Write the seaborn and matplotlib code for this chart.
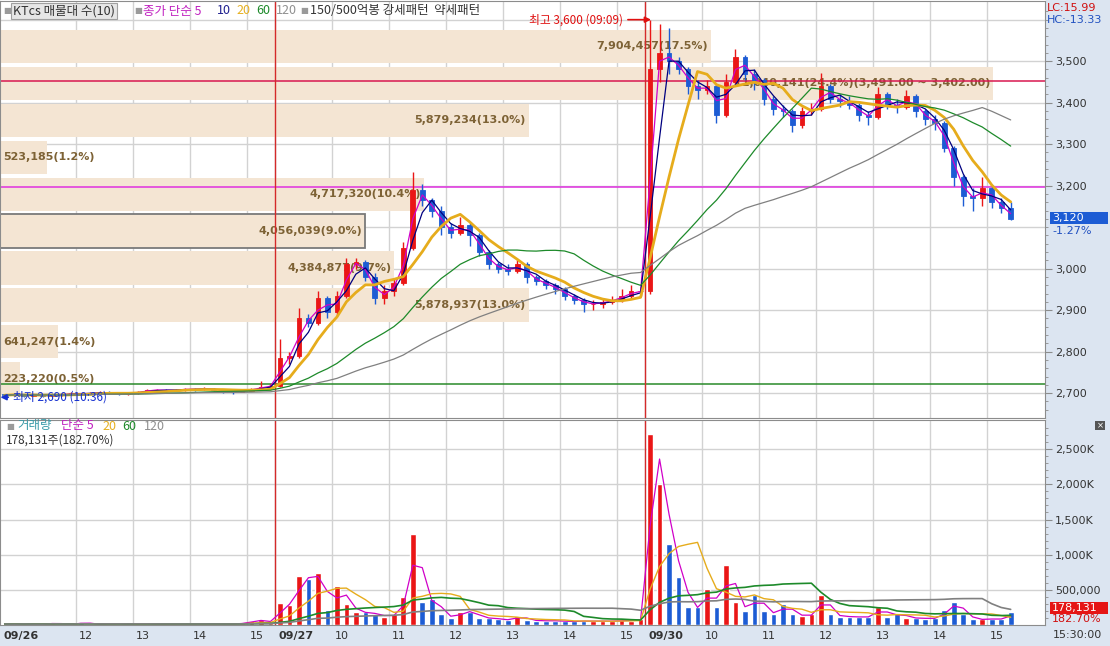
import numpy as np
import pandas as pd
import matplotlib
matplotlib.use("Agg")
import matplotlib.pyplot as plt
from matplotlib.patches import Rectangle
from matplotlib.transforms import ScaledTranslation, blended_transform_factory
import seaborn as sns

# 10분 단위로 읽은 시세 : 09/26 10:40~15:20, 09/27 09:00~15:20, 09/30 09:00~15:20
first_open = 2697
close_0926 = [2695, 2697, 2694, 2696, 2693, 2695, 2697, 2700, 2698, 2700, 2702, 2700, 2698, 2700, 2703,
              2707, 2708, 2706, 2708, 2710, 2709, 2711, 2708, 2705, 2703, 2706, 2710, 2715, 2718]
high_0926 = [2699, 2700, 2698, 2699, 2697, 2698, 2700, 2703, 2701, 2703, 2705, 2704, 2701, 2703, 2706,
             2710, 2711, 2709, 2711, 2713, 2712, 2714, 2712, 2709, 2706, 2709, 2713, 2730, 2722]
low_0926 = [2690, 2693, 2691, 2692, 2690, 2692, 2693, 2696, 2695, 2697, 2699, 2697, 2695, 2696, 2699,
            2702, 2704, 2703, 2704, 2706, 2705, 2707, 2704, 2700, 2699, 2702, 2705, 2709, 2713]

close_0927 = [2785, 2790, 2880, 2870, 2930, 2895, 2935, 3010, 3015, 2980, 2930, 2945, 2965, 3050, 3190,
              3165, 3140, 3100, 3085, 3105, 3080, 3040, 3010, 3000, 2995, 3010, 2980, 2970, 2960, 2950,
              2935, 2925, 2915, 2915, 2920, 2925, 2935, 2945, 2945]
high_0927 = [2830, 2800, 2905, 2890, 2945, 2935, 2945, 3025, 3025, 3020, 2990, 2960, 2975, 3065, 3232,
             3205, 3170, 3150, 3110, 3125, 3110, 3085, 3045, 3015, 3010, 3020, 3015, 2985, 2975, 2965,
             2955, 2940, 2930, 2925, 2930, 2935, 2950, 2960, 2955]
low_0927 = [2715, 2770, 2785, 2860, 2865, 2880, 2885, 2930, 3000, 2970, 2915, 2915, 2935, 2960, 3045,
            3150, 3125, 3080, 3075, 3080, 3055, 3030, 3000, 2990, 2985, 2990, 2965, 2960, 2950, 2940,
            2925, 2915, 2895, 2900, 2905, 2915, 2920, 2930, 2935]

close_0930 = [3480, 3520, 3500, 3480, 3440, 3430, 3440, 3370, 3450, 3510, 3470, 3455, 3410, 3385, 3380,
              3345, 3380, 3385, 3440, 3410, 3405, 3395, 3370, 3365, 3420, 3395, 3390, 3415, 3380, 3360,
              3350, 3290, 3220, 3175, 3170, 3195, 3160, 3145, 3120]
high_0930 = [3600, 3590, 3580, 3510, 3485, 3455, 3455, 3445, 3470, 3530, 3515, 3480, 3460, 3415, 3395,
             3385, 3390, 3400, 3471, 3445, 3420, 3415, 3400, 3380, 3437, 3425, 3410, 3430, 3420, 3385,
             3370, 3355, 3295, 3225, 3195, 3220, 3200, 3170, 3160]
low_0930 = [2940, 3450, 3470, 3470, 3420, 3410, 3420, 3350, 3365, 3445, 3455, 3430, 3395, 3370, 3365,
            3330, 3340, 3370, 3380, 3400, 3390, 3385, 3355, 3345, 3360, 3385, 3375, 3385, 3365, 3345,
            3335, 3280, 3200, 3150, 3140, 3150, 3145, 3135, 3118]

volume_0926 = [15000, 10000, 20000, 8000, 12000, 30000, 10000, 8000, 40000, 12000, 10000, 20000, 15000, 10000,
               25000, 12000, 10000, 8000, 15000, 10000, 12000, 20000, 15000, 10000, 18000, 25000, 60000, 70000, 30000]
volume_0927 = [310000, 280000, 695000, 650000, 733000, 220000, 550000, 300000, 180000, 180000, 150000, 120000,
               150000, 400000, 1300000, 330000, 370000, 150000, 100000, 190000, 190000, 100000, 100000, 80000,
               70000, 130000, 70000, 60000, 60000, 60000, 50000, 50000, 60000, 50000, 60000, 50000, 70000,
               60000, 90000]
volume_0930 = [2720000, 2000000, 1150000, 680000, 250000, 250000, 515000, 250000, 860000, 320000, 200000,
               420000, 200000, 150000, 300000, 150000, 130000, 150000, 420000, 150000, 120000, 120000, 110000,
               120000, 250000, 120000, 170000, 100000, 100000, 90000, 100000, 210000, 330000, 150000, 80000,
               80000, 90000, 80000, 178131]

# 매물대 (아래 -> 위), 3,402 ~ 3,491 구간이 최대
profile_low = 2690
profile_step = 89
profile_volume = [223220, 641247, 5878937, 4384877, 4056039, 4717320, 523185, 5879234, 11040141, 7904457]

level_red = 3451
level_magenta = 3197
level_green = 2721

price_grid = [2700, 2800, 2900, 3000, 3100, 3200, 3300, 3400, 3500, 3600]
price_ticks = [2700, 2800, 2900, 3000, 3200, 3300, 3400, 3500]
volume_ticks = [500000, 1000000, 1500000, 2000000, 2500000]
volume_tick_labels = ["500,000", "1,000K", "1,500K", "2,000K", "2,500K"]

# ---------------------------------------------------------------
close = np.array(close_0926 + close_0927 + close_0930, dtype=float)
high = np.array(high_0926 + high_0927 + high_0930, dtype=float)
low = np.array(low_0926 + low_0927 + low_0930, dtype=float)
volume = np.array(volume_0926 + volume_0927 + volume_0930, dtype=float)
open_ = np.r_[first_open, close[:-1]]
x = np.arange(len(close))
df = pd.DataFrame({"x": x, "open": open_, "high": high, "low": low, "close": close, "volume": volume})

n1, n2 = len(close_0926), len(close_0927)
day2_start = n1 - 0.5
day3_start = n1 + n2 - 0.5
# 시간 축 위치 (10분봉 기준)
ticks = [(-0.5, "09/26", True)]
for h in [12, 13, 14, 15]:
    ticks.append(((h * 60 - 640) / 10 - 0.5, str(h), False))
for start, lab in [(day2_start, "09/27"), (day3_start, "09/30")]:
    ticks.append((start, lab, True))
    for h in [10, 11, 12, 13, 14, 15]:
        ticks.append((start + (h - 9) * 6, str(h), False))
grid_x = [t[0] for t in ticks if t[0] > 0]

# 3분봉 이동평균 기간을 10분봉 개수로 환산
price_ma = [(2, "#d000c8", 0.9), (3, "#000080", 0.9), (6, "#e6ac1c", 2.0), (18, "#1d8a2a", 0.9), (36, "#808080", 0.9)]
vol_ma = [(2, "#d000c8", 0.9), (6, "#e6ac1c", 1.0), (18, "#1d8a2a", 1.2), (36, "#808080", 1.2)]

UP, DOWN = "#ea1616", "#1d5cd4"
colors = np.where(df["close"] >= df["open"], UP, DOWN)

sns.set_style("white")
plt.rcParams["font.family"] = ["DejaVu Sans", "Noto Sans CJK KR"]
KR = ["Noto Sans CJK KR", "DejaVu Sans"]

W, H = 1110, 646
fig = plt.figure(figsize=(W / 100, H / 100), dpi=100)
STRIP = "#dce5f1"
fig.patches.append(Rectangle((1046 / W, 0), 1, 1, transform=fig.transFigure,
                             facecolor=STRIP, edgecolor="none", zorder=-10))
fig.patches.append(Rectangle((0, 0), 1, 1 - 625 / H, transform=fig.transFigure,
                             facecolor=STRIP, edgecolor="none", zorder=-10))


def rect(top, bottom, left=0, right=1045):
    return [left / W, 1 - bottom / H, (right - left) / W, (bottom - top) / H]


def ftext(px, py, s, **kw):
    kw.setdefault("va", "center")
    kw.setdefault("ha", "left")
    return fig.text(px / W, 1 - py / H, s, **kw)


XLIM = (-0.5, -0.5 + 1045 / 9.49)
YLIM = (2640, 3645)
VLIM = (0, 2915000)
GRID = "#d2d2d2"
SPINE = "#8c8c8c"

ax_bg = fig.add_axes(rect(1, 418))
ax_vp = fig.add_axes(rect(1, 418))
ax = fig.add_axes(rect(1, 418))
ax_v = fig.add_axes(rect(420, 625))

# grid layer
ax_bg.set_xlim(XLIM)
ax_bg.set_ylim(YLIM)
ax_bg.set_facecolor("white")
for gx in grid_x:
    ax_bg.axvline(gx, color=GRID, lw=1)
for gy in price_grid:
    ax_bg.axhline(gy, color=GRID, lw=1)
ax_bg.set_xticks([])
ax_bg.set_yticks([])
for s in ax_bg.spines.values():
    s.set_visible(False)

# 매물대
centers = [profile_low + profile_step * (i + 0.5) for i in range(len(profile_volume))]
vmax = max(profile_volume)
total = sum(profile_volume)
ax_vp.set_ylim(YLIM)
ax_vp.set_xlim(0, vmax * 1045 / 993)
bars = ax_vp.barh(centers, profile_volume, height=profile_step * 0.9, color="#f4e5d3", edgecolor="none")
cur_band = int((close[-1] - profile_low) // profile_step)
bars[cur_band].set_edgecolor("#7a7a7a")
bars[cur_band].set_linewidth(1.3)
left_off = ScaledTranslation(3 / 100, 0, fig.dpi_scale_trans)
right_off = ScaledTranslation(-3 / 100, 0, fig.dpi_scale_trans)
for i, (c, v) in enumerate(zip(centers, profile_volume)):
    pct = v / total * 100
    lab = f"{v:,}({pct:.1f}%)"
    if v == vmax:
        lo = profile_low + profile_step * i
        lab += f"({lo + profile_step:,.2f} ~ {lo:,.2f})"
    if pct < 2:
        ax_vp.text(0, c, lab, ha="left", va="center", color="#7d6235", fontsize=8,
                   fontweight="bold", transform=ax_vp.transData + left_off)
    else:
        ax_vp.text(v, c, lab, ha="right", va="center", color="#7d6235", fontsize=8,
                   fontweight="bold", transform=ax_vp.transData + right_off)
ax_vp.set_axis_off()

# price layer
ax.set_facecolor("none")
ax.set_xlim(XLIM)
ax.set_ylim(YLIM)
ax.axhline(level_red, color="#d81850", lw=1.1, zorder=2)
ax.axhline(level_magenta, color="#e030e0", lw=1.1, zorder=2)
ax.axhline(level_green, color="#2a8a2a", lw=1.1, zorder=2)
for d in [day2_start, day3_start]:
    ax.axvline(d, color="#d42a2a", lw=1, zorder=2)
ax.vlines(df["x"], df["low"], df["high"], colors=colors, lw=1, zorder=3)
ax.bar(df["x"], df["close"] - df["open"], bottom=df["open"], width=0.5, color=colors,
       edgecolor=colors, linewidth=0.6, zorder=4)
for w, c, lw in price_ma:
    sns.lineplot(x=df["x"], y=df["close"].rolling(w, min_periods=1).mean(), ax=ax,
                 color=c, linewidth=lw, legend=False, zorder=5)
ax.set_xlabel("")
ax.set_ylabel("")
ax.set_xticks([])
ax.yaxis.tick_right()
ax.set_yticks(price_ticks)
ax.set_yticklabels([f"{t:,}" for t in price_ticks])
ax.set_yticks(np.arange(2660, 3640, 20), minor=True)
ax.tick_params(axis="y", which="major", length=5, width=0.8, color=SPINE, labelsize=8,
               labelcolor="#333333", pad=2)
ax.tick_params(axis="y", which="minor", length=2.5, width=0.6, color=SPINE)
for s in ax.spines.values():
    s.set_color(SPINE)

ax.annotate("최고 3,600 (09:09)", xy=(68.1, 3600), xytext=(-20, 0), textcoords="offset points",
            ha="right", va="center", color="#e01010", fontsize=8.5, family=KR, zorder=6,
            arrowprops=dict(arrowstyle="-|>", color="#e01010", lw=1.2, shrinkA=1, shrinkB=0))
ax.annotate("최저 2,690 (10:36)", xy=(-0.45, 2690), xytext=(9, 0), textcoords="offset points",
            ha="left", va="center", color="#1530d0", fontsize=8.5, family=KR, zorder=6,
            arrowprops=dict(arrowstyle="-|>", color="#1530d0", lw=1.2, shrinkA=1, shrinkB=0))

# volume
ax_v.set_facecolor("white")
ax_v.set_xlim(XLIM)
ax_v.set_ylim(VLIM)
for gx in grid_x:
    ax_v.axvline(gx, color=GRID, lw=1, zorder=0)
for gy in volume_ticks:
    ax_v.axhline(gy, color=GRID, lw=1, zorder=0)
for d in [day2_start, day3_start]:
    ax_v.axvline(d, color="#d42a2a", lw=1, zorder=2)
ax_v.bar(df["x"], df["volume"], width=0.6, color=colors, zorder=3)
for w, c, lw in vol_ma:
    sns.lineplot(x=df["x"], y=df["volume"].rolling(w, min_periods=1).mean(), ax=ax_v,
                 color=c, linewidth=lw, legend=False, zorder=4)
ax_v.set_xlabel("")
ax_v.set_ylabel("")
ax_v.yaxis.tick_right()
ax_v.set_yticks(volume_ticks)
ax_v.set_yticklabels(volume_tick_labels)
ax_v.set_yticks(np.arange(100000, 2900000, 100000), minor=True)
ax_v.tick_params(axis="y", which="major", length=5, width=0.8, color=SPINE, labelsize=8,
                 labelcolor="#333333", pad=2)
ax_v.tick_params(axis="y", which="minor", length=2.5, width=0.6, color=SPINE)
ax_v.set_xticks([t[0] for t in ticks])
ax_v.tick_params(axis="x", length=15, width=0.8, color="#9aa6b6", labelbottom=False)
for s in ax_v.spines.values():
    s.set_color(SPINE)
btrans = blended_transform_factory(ax_v.transData, ax_v.transAxes) + ScaledTranslation(3 / 100, 0, fig.dpi_scale_trans)
for pos, lab, bold in ticks:
    ax_v.text(pos, -0.052, lab, transform=btrans, ha="left", va="center", fontsize=8,
              color="#333333", fontweight="bold" if bold else "normal")

# top legend
ftext(3, 11, "■", color="#9a9a9a", fontsize=6)
ftext(13, 11, "KTcs 매물대 수(10)", family=KR, fontsize=9, color="#333333",
      bbox=dict(boxstyle="square,pad=0.15", fc="#e6e6e6", ec="#a0a0a0", lw=0.8))
ftext(134, 11, "■", color="#9a9a9a", fontsize=6)
ftext(143, 11, "종가 단순 5", family=KR, fontsize=9, color="#c020c0")
ftext(217, 11, "10", family=KR, fontsize=9, color="#202090")
ftext(236, 11, "20", family=KR, fontsize=9, color="#e6b020")
ftext(256, 11, "60", family=KR, fontsize=9, color="#1d8a2a")
ftext(276, 11, "120", family=KR, fontsize=9, color="#909090")
ftext(300, 11, "■", color="#9a9a9a", fontsize=6)
ftext(310, 11, "150/500억봉 강세패턴  약세패턴", family=KR, fontsize=9, color="#333333")

ftext(6, 426, "■", color="#9a9a9a", fontsize=6)
ftext(17, 426, "거래량", family=KR, fontsize=9, color="#3a9aa8")
ftext(61, 426, "단순 5", family=KR, fontsize=9, color="#c020c0")
ftext(102, 426, "20", family=KR, fontsize=9, color="#e6b020")
ftext(122, 426, "60", family=KR, fontsize=9, color="#1d8a2a")
ftext(144, 426, "120", family=KR, fontsize=9, color="#909090")
ftext(6, 440, "178,131주(182.70%)", family=KR, fontsize=8.5, color="#333333")

# right strip
ftext(1047, 8, "LC:15.99", fontsize=8, color="#d01010")
ftext(1047, 20, "HC:-13.33", fontsize=8, color="#2050c0")
fig.patches.append(Rectangle((1050 / W, 1 - 224 / H), 58 / W, 12 / H, transform=fig.transFigure,
                             facecolor="#1d5cd4", edgecolor="none"))
ftext(1052, 218, f"{close[-1]:,.0f}", fontsize=8, color="white")
ftext(1052, 231, "-1.27%", fontsize=8, color="#2050c0")
fig.patches.append(Rectangle((1050 / W, 1 - 614 / H), 58 / W, 12 / H, transform=fig.transFigure,
                             facecolor="#e51515", edgecolor="none"))
ftext(1052, 608, f"{volume[-1]:,.0f}", fontsize=8, color="white")
ftext(1052, 619, "182.70%", fontsize=8, color="#d01010")
ftext(1053, 635, "15:30:00", fontsize=8, color="#333333")
fig.patches.append(Rectangle((1095 / W, 1 - 430 / H), 10 / W, 9 / H, transform=fig.transFigure,
                             facecolor="#555555", edgecolor="none"))
ftext(1100, 425.5, "×", fontsize=6, color="white", ha="center")

fig.savefig("out.png", dpi=100)
